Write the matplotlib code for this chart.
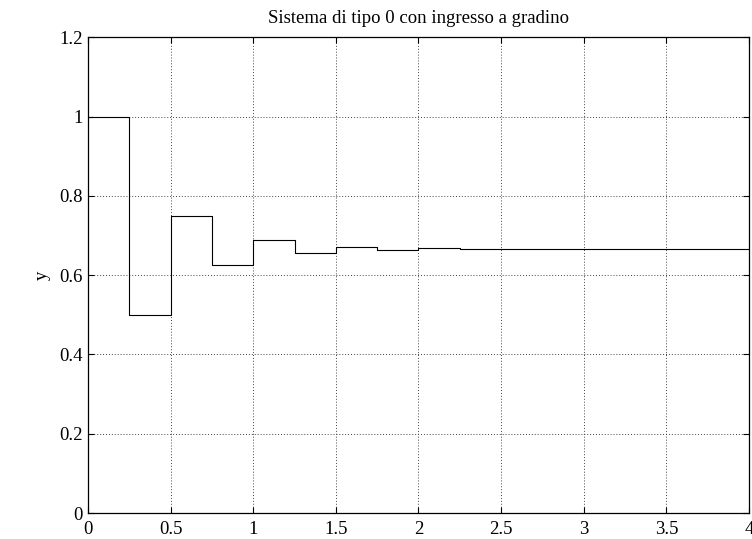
import numpy as np
import matplotlib.pyplot as plt

plt.rcParams["font.family"] = ["Liberation Serif", "DejaVu Serif"]
plt.rcParams["font.size"] = 13.5

# step response samples (T = 0.25 s)
t = [0, 0.25, 0.5, 0.75, 1.0, 1.25, 1.5, 1.75, 2.0, 2.25, 2.5, 2.75,
     3.0, 3.25, 3.5, 3.75, 4.0]
y = [1.0, 0.5, 0.75, 0.625, 0.6875, 0.656, 0.672, 0.664, 0.668, 0.666,
     0.667, 0.667, 0.667, 0.667, 0.667, 0.667, 0.667]

fig = plt.figure(figsize=(7.52, 5.39), dpi=100)
ax = fig.add_axes([0.117, 0.048, 0.879, 0.883])

ax.step(t, y, where="post", color="black", linewidth=0.8)

ax.set_xlim(0, 4)
ax.set_ylim(0, 1.2)
ax.set_xticks(np.arange(0, 4.01, 0.5))
ax.set_xticklabels(["0", "0.5", "1", "1.5", "2", "2.5", "3", "3.5", "4"])
ax.set_yticks(np.arange(0, 1.21, 0.2))
ax.set_yticklabels(["0", "0.2", "0.4", "0.6", "0.8", "1", "1.2"])

ax.grid(True, linestyle=(0, (1, 2)), color="#444444", linewidth=0.7)
ax.tick_params(direction="in", top=True, right=True, length=4)
ax.tick_params(axis="x", pad=6)
ax.tick_params(axis="y", pad=4)
for s in ax.spines.values():
    s.set_linewidth(0.9)

ax.set_ylabel("y", labelpad=6)
ax.set_title("Sistema di tipo 0 con ingresso a gradino", fontsize=13.5, pad=10)

fig.savefig("out.png", dpi=100)
